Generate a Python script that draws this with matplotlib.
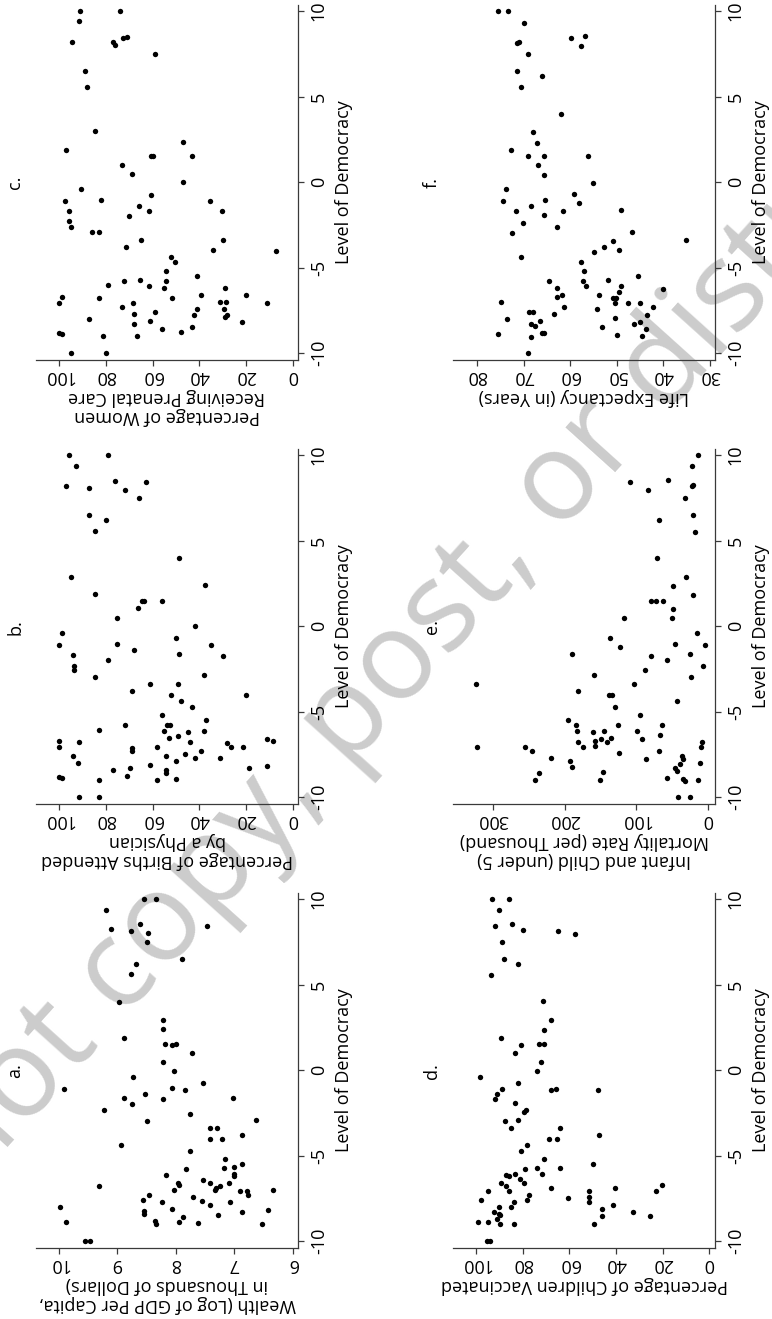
import matplotlib.pyplot as plt

plt.rcParams['font.family'] = ['Open Sans', 'DejaVu Sans']
plt.rcParams['axes.unicode_minus'] = False

# a. wealth (log GDP per capita)
dem_a = [10, 10, 9.35, 8.25, 8.15, 8.55, 8.0, 7.5, 8.4, 5.6, 6.2, 6.5, 4.0, 2.95, 2.4, 1.85,
         1.5, 1.45, 1.5, 1.0, 0.45, -0.03, -0.4, -0.75, -1.1, -1.05, -1.15, -1.65, -1.4, -1.7,
         -1.6, -2.0, -2.35, -2.55, -2.95, -2.9, -3.4, -3.4, -4.0, -4.0, -3.8, -4.4, -4.7, -5.2,
         -5.8, -5.75, -5.65, -5.5, -6.15, -6.4, -6.05, -6.2, -6.6, -6.7, -6.6, -6.6, -6.75, -7.0,
         -6.8, -6.9, -7.0, -7.05, -7.05, -7.03, -7.3, -7.4, -7.3, -7.6, -7.7, -7.65, -7.7, -8.0,
         -8.1, -7.9, -8.2, -8.3, -8.25, -8.4, -8.45, -8.6, -8.8, -9.0, -8.85, -8.9, -8.95, -9.0,
         -10, -10]
wealth_a = [8.54, 8.33, 9.2, 9.11, 8.77, 8.61, 8.47, 8.49, 7.47, 8.77, 8.68, 7.90, 8.97, 8.22,
            8.22, 8.88, 8.19, 8.07, 8.0, 7.73, 8.22, 8.03, 8.73, 7.54, 9.91, 8.06, 7.85, 8.88,
            8.53, 8.21, 7.02, 8.75, 9.22, 7.75, 8.49, 6.63, 7.42, 7.30, 7.41, 7.21, 6.87, 8.94,
            7.75, 7.16, 7.83, 7.18, 7.01, 6.87, 8.17, 7.54, 7.01, 7.0, 7.97, 7.94, 7.42, 7.09,
            9.31, 8.03, 7.25, 7.31, 7.33, 6.91, 6.79, 6.34, 8.46, 7.71, 6.77, 8.56, 8.23, 7.55,
            7.08, 9.98, 8.06, 7.42, 6.42, 6.87, 8.55, 8.55, 7.28, 7.88, 8.35, 8.34, 7.94, 9.87,
            7.62, 6.52, 9.56, 9.47]

# b. births attended by a physician
dem_b = [10, 10, 9.35, 8.2, 8.1, 8.5, 7.95, 8.4, 7.5, 6.5, 6.2, 5.55, 4.0, 2.9, 2.4, 1.9, 1.5,
         1.5, 1.5, 1.05, 0.5, 0.0, -0.4, -0.7, -1.1, -1.05, -1.1, -1.7, -1.4, -1.65, -1.75,
         -1.95, -2.3, -2.55, -2.95, -2.85, -3.4, -3.4, -3.8, -4.0, -4.05, -4.4, -4.7, -5.2,
         -5.5, -5.8, -5.75, -5.75, -6.05, -6.1, -6.15, -6.2, -6.4, -6.55, -6.6, -6.7, -7.05,
         -6.8, -6.8, -6.7, -6.85, -7.1, -7.3, -7.05, -7.05, -7.05, -7.3, -7.45, -7.6, -7.6,
         -7.7, -7.7, -8.0, -8.1, -7.9, -8.4, -8.3, -8.4, -8.6, -8.75, -8.3, -8.2, -8.8, -8.9,
         -9.0, -9.0, -8.95, -10, -10]
births_b = [95.9, 79.1, 93.0, 97.0, 87.1, 76.0, 72.0, 63.0, 65.9, 87.1, 80.0, 84.6, 48.9, 94.9,
            37.6, 84.6, 64.6, 63.9, 56.0, 66.1, 75.1, 42.0, 98.9, 50.1, 100, 75.1, 35.1, 94.0,
            68.1, 48.8, 29.9, 79.1, 93.9, 93.9, 84.9, 37.8, 61.0, 49.1, 69.0, 52.1, 20.0, 47.9,
            43.1, 56.0, 37.0, 72.0, 53.8, 52.6, 83.1, 55.0, 37.8, 45.0, 49.1, 53.2, 11.1, 100,
            100, 91.6, 44.0, 8.3, 28.0, 69.0, 69.0, 58.2, 26.2, 21.2, 39.1, 46.0, 94.0, 54.1,
            31.0, 42.0, 91.9, 61.0, 50.1, 76.8, 69.8, 54.1, 54.1, 71.1, 18.9, 11.1, 100, 98.7,
            83.1, 58.0, 50.1, 91.6, 82.9]

# c. women receiving prenatal care
dem_c = [10, 10, 9.4, 8.2, 8.2, 8.0, 8.4, 8.5, 7.5, 6.5, 5.55, 3.0, 1.9, 2.35, 1.5, 1.5, 1.5,
         1.0, 0.5, 0.0, -0.4, -0.73, -1.1, -1.06, -1.1, -1.7, -1.4, -1.67, -1.7, -2.0, -2.3,
         -2.6, -2.9, -2.9, -3.4, -3.4, -3.8, -4.0, -4.05, -4.4, -4.7, -5.2, -5.5, -5.8, -5.8,
         -5.7, -6.0, -6.1, -6.2, -6.2, -6.6, -6.6, -6.7, -6.8, -6.8, -7.05, -7.05, -7.0, -7.0,
         -7.05, -7.3, -7.4, -7.4, -7.7, -7.6, -7.8, -7.8, -7.9, -8.0, -8.1, -8.2, -8.3, -8.5,
         -8.6, -8.75, -8.8, -8.9, -9.0, -9.0, -10, -10]
prenatal_c = [91, 73.8, 91.6, 94.7, 77.2, 76.1, 72.5, 71.1, 58.9, 88.8, 88.1, 84.8, 97.2, 47.1,
              43.0, 60.7, 59.7, 73.0, 69.0, 47.1, 90.9, 60.9, 97.7, 82.1, 35.3, 95.9, 65.7,
              61.7, 30.2, 70.1, 95.9, 94.9, 86.2, 82.9, 65.1, 29.9, 71.3, 34.1, 7.3, 52.1, 50.2,
              54.1, 41.1, 54.2, 72.3, 65.3, 79.0, 61.7, 55.0, 28.9, 39.1, 19.9, 98.9, 82.9, 51.8,
              100, 68.4, 31.2, 28.7, 11.0, 73.0, 41.0, 29.2, 68.0, 59.2, 42.2, 28.3, 29.0, 87.1,
              61.2, 21.9, 68.0, 43.2, 56.0, 47.9, 100, 99, 81.1, 66.9, 95.2, 80.1]

# d. children vaccinated
dem_d = [10, 10, 9.35, 8.4, 8.55, 8.2, 8.15, 7.95, 7.5, 6.5, 6.2, 5.55, 4.05, 2.95, 2.35, 1.85,
         1.45, 1.55, 1.55, 1.0, 0.5, -0.05, -0.4, -0.75, -1.1, -1.4, -1.7, -1.15, -1.1, -1.15,
         -1.95, -2.35, -2.45, -3.0, -2.9, -3.4, -3.4, -4.0, -4.05, -3.8, -4.4, -4.75, -5.2, -5.5,
         -5.8, -5.75, -5.75, -6.1, -6.15, -6.2, -6.1, -6.35, -6.6, -6.6, -6.75, -6.7, -6.9, -6.9,
         -7.05, -7.05, -7.05, -7.4, -7.7, -7.05, -7.3, -7.45, -7.6, -7.6, -7.7, -7.9, -8.0, -8.0,
         -8.1, -8.3, -8.4, -8.45, -8.3, -8.5, -8.7, -8.55, -8.85, -8.9, -9.0, -9.0, -9.0, -10, -10]
vacc_d = [93.2, 86.0, 90.4, 91.9, 84.6, 79.9, 65.0, 57.7, 88.9, 87.9, 82.2, 93.5, 71.2, 68.1,
          70.9, 89.2, 80.7, 73.2, 70.8, 83.2, 72.2, 73.8, 98.4, 82.0, 88.9, 91.2, 91.9, 47.8,
          65.8, 68.1, 83.2, 78.8, 79.7, 87.6, 82.0, 85.3, 64.2, 68.8, 65.5, 47.5, 78.1, 81.0,
          70.9, 49.9, 79.3, 74.0, 63.9, 83.2, 87.2, 86.0, 71.8, 81.3, 89.5, 79.7, 87.1, 20.1,
          67.8, 40.4, 95.0, 86.0, 51.7, 51.7, 51.7, 23.0, 77.3, 60.7, 98.1, 78.3, 83.9, 41.3,
          84.9, 90.1, 45.9, 92.4, 90.1, 90.0, 32.8, 45.9, 91.2, 25.6, 99.1, 95.1, 89.9, 84.0,
          49.6, 95.3, 94.2]

# e. infant and child mortality (under 5)
dem_e = [10, 9.35, 8.55, 8.4, 7.95, 8.2, 8.25, 7.5, 6.5, 6.2, 5.5, 4.0, 2.9, 2.35, 1.85, 1.5,
         1.5, 1.45, 1.0, 0.45, 0.5, -0.4, -0.7, -1.2, -1.05, -1.1, -1.65, -1.75, -1.65, -1.95,
         -2.55, -2.35, -2.85, -2.95, -3.4, -3.4, -3.8, -4.05, -4.05, -4.4, -4.7, -5.2, -5.5,
         -5.75, -6.1, -5.8, -5.8, -6.2, -6.1, -6.15, -6.35, -6.8, -6.7, -7.0, -6.6, -6.8, -6.55,
         -6.6, -7.05, -7.05, -7.05, -7.3, -7.4, -7.3, -6.75, -7.05, -7.7, -7.75, -7.9, -8.25,
         -7.6, -7.75, -8.05, -8.0, -8.3, -8.45, -8.5, -8.6, -8.9, -9.0, -9.0, -8.95, -9.05, -9.0,
         -10, -10]
mort_e = [13.5, 22.8, 56.3, 109.3, 84.2, 22.3, 21.5, 31.6, 20.5, 67.9, 18.1, 70.7, 30.7, 48.4,
          20.9, 79.1, 72.1, 62.3, 49.3, 49.8, 117.2, 15.8, 136.7, 122.8, 46.5, 4.2, 189.3, 79.1,
          25.1, 57.7, 88.4, 7.0, 159.1, 23.7, 323.3, 102.8, 180.9, 138.1, 134.4, 43.3, 130.2,
          94.9, 195.3, 183.7, 183.3, 125.6, 63.7, 160.0, 145.1, 99.5, 66.5, 180.9, 157.2, 157.2,
          149.3, 141.4, 135.3, 92.6, 174.9, 254.9, 321.9, 245.6, 124.7, 67.9, 7.9, 9.3, 218.6,
          87.0, 192.1, 189.8, 36.7, 34.9, 38.6, 11.6, 45.6, 43.3, 146.0, 235.8, 56.7, 150.2,
          241.4, 34.4, 32.6, 14.0, 42.3, 25.6]

# f. life expectancy
dem_f = [10, 10, 9.3, 8.4, 8.55, 7.95, 8.1, 8.2, 7.5, 6.5, 6.2, 5.55, 4.0, 2.95, 2.3, 1.9, 1.5,
         1.5, 1.5, 1.0, 0.4, -0.05, -0.4, -0.7, -1.1, -1.06, -1.2, -1.7, -1.4, -1.7, -1.65, -1.9,
         -2.4, -2.6, -2.95, -2.9, -3.45, -3.8, -3.4, -4.1, -4.0, -4.4, -4.7, -5.2, -5.5, -5.8,
         -5.8, -5.7, -6.1, -6.1, -6.2, -6.25, -6.6, -6.6, -6.7, -6.8, -6.75, -6.4, -7.05, -7.05,
         -7.0, -7.05, -7.3, -7.4, -7.3, -7.6, -7.6, -7.7, -7.75, -7.95, -8.0, -8.1, -8.3, -8.4,
         -8.3, -8.2, -8.5, -8.6, -8.8, -8.85, -8.9, -9.05, -8.95, -9.0, -10]
life_f = [75.4, 73.4, 69.9, 59.9, 56.9, 57.6, 71.4, 71.0, 69.0, 71.5, 66.1, 70.6, 61.9, 68.0,
          67.1, 72.7, 69.1, 65.7, 56.2, 66.9, 65.6, 55.1, 73.7, 59.1, 74.4, 65.5, 58.2, 71.6,
          68.5, 61.5, 49.1, 65.7, 70.2, 62.8, 72.4, 46.7, 50.9, 52.7, 35.1, 54.9, 49.6, 70.6,
          57.6, 57.1, 45.5, 64.6, 57.2, 51.8, 56.6, 49.1, 62.9, 40.1, 61.7, 53.8, 62.8, 50.7,
          50.1, 49.6, 50.3, 47.6, 74.9, 44.9, 61.4, 54.2, 42.2, 68.9, 68.0, 63.5, 43.5, 50.4,
          73.6, 66.4, 68.4, 67.6, 46.4, 45.0, 53.1, 43.8, 66.0, 65.6, 75.4, 68.5, 49.9, 44.5,
          69.1]

dem_ticks = [-10, -5, 0, 5, 10]
pct_ticks = [0, 20, 40, 60, 80, 100]

# letter, x data, y data, value limits, value ticks, value label, column, row
panels = [
    ("a.", wealth_a, dem_a, (10.39, 5.91), [6, 7, 8, 9, 10],
     "Wealth (Log of GDP Per Capita,\nin Thousands of Dollars)", 0, 2),
    ("b.", births_b, dem_b, (110, -2.3), pct_ticks,
     "Percentage of Births Attended\nby a Physician", 0, 1),
    ("c.", prenatal_c, dem_c, (110, -2.3), pct_ticks,
     "Percentage of Women\nReceiving Prenatal Care", 0, 0),
    ("d.", vacc_d, dem_d, (110, -2.5), pct_ticks,
     "Percentage of Children Vaccinated", 1, 2),
    ("e.", mort_e, dem_e, (355.8, -9.8), [0, 100, 200, 300],
     "Infant and Child (under 5)\nMortality Rate (per Thousand)", 1, 1),
    ("f.", life_f, dem_f, (85.15, 28.9), [30, 40, 50, 60, 70, 80],
     "Life Expectancy (in Years)", 1, 0),
]

fig = plt.figure(figsize=(7.72, 13.19), dpi=100)

fig.text(0.536, 0.509, "Do not copy, post, or distribute", fontsize=89, color="#cccccc",
         rotation=48, ha="center", va="center", rotation_mode="anchor", zorder=-1)

lefts = [0.0466, 0.5868]
bottoms = [0.7271, 0.3904, 0.0538]
axcol = "#3a3a3a"

for letter, xs, ys, xlim, xticks, label, col, row in panels:
    ax = fig.add_axes([lefts[col], bottoms[row], 0.3394, 0.2691])
    ax.set_facecolor("none")
    ax.scatter(xs, ys, s=15, c="black", linewidths=0, zorder=3)
    ax.set_xlim(*xlim)
    ax.set_ylim(-10.4, 10.35)
    ax.set_xticks(xticks)
    ax.set_yticks(dem_ticks)
    ax.yaxis.tick_right()
    ax.spines["left"].set_visible(False)
    ax.spines["top"].set_visible(False)
    for s in ("right", "bottom"):
        ax.spines[s].set_color(axcol)
        ax.spines[s].set_linewidth(0.9)
    ax.tick_params(axis="x", labelrotation=180, length=4, width=0.9, color=axcol,
                   labelsize=13, pad=1)
    ax.tick_params(axis="y", labelrotation=90, length=4, width=0.9, color=axcol,
                   labelsize=13, pad=4.5)
    for t in ax.get_yticklabels():
        t.set_va("center")
    ax.text(1.175, 0.5, "Level of Democracy", rotation=90, transform=ax.transAxes,
            ha="center", va="center", fontsize=13)
    ax.text(0.5, -28 / 355, label, rotation=180, transform=ax.transAxes,
            ha="center", va="top", fontsize=13, linespacing=1.1, multialignment="center")
    ax.text(-0.08, 0.5, letter, rotation=90, transform=ax.transAxes,
            ha="center", va="center", fontsize=13)

fig.savefig("out.png", dpi=100)
